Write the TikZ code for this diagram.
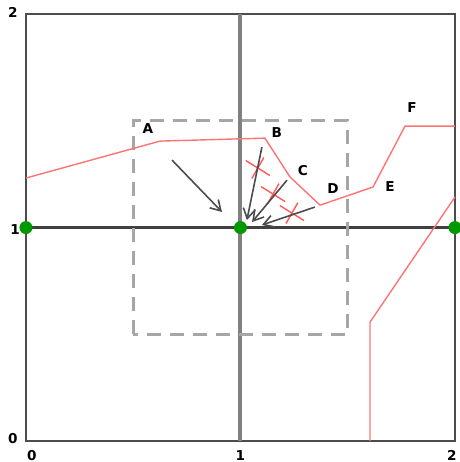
\documentclass[tikz,border=0pt]{standalone}
\usepackage{fontspec}
\setsansfont{DejaVu Sans}
\usepackage{tikz}
\usetikzlibrary{arrows.meta,positioning,calc}
\usepackage{xcolor}

\tikzset{
  lbl/.style={font=\sffamily\bfseries\fontsize{6.8}{8}\selectfont, inner sep=0pt},
  path/.style={red!55, line width=0.7pt, line join=round},
  move/.style={black!70, line width=0.8pt, -{Straight Barb[length=5pt,width=6pt]}},
  cross/.style={red!65, line width=0.7pt},
  site/.style={circle, fill=green!60!black, inner sep=0pt, minimum size=6.5pt},
}

\begin{document}
\begin{tikzpicture}[x=107.25pt,y=106.75pt]
                    \useasboundingbox (-0.121,-0.098) rectangle (2.023,2.066);
                    % frame and axes
                    \draw[black!70,line width=1.2pt] (0,2) -- (0,0) -- (2,0) -- (2,2) -- cycle;
                    \draw[black!50,line width=2pt] (1,0) -- (1,2);
                    \draw[black!75,line width=1.1pt] (0,1) -- (2,1);
                    \draw[black!35,line width=1.5pt,dash pattern=on 7pt off 4.5pt] (0.5,0.5) rectangle (1.5,1.5);
                    % obstacle boundaries
                    \draw[path] (0,1.232) -- (0.625,1.405) -- (1.114,1.419) -- (1.231,1.237)
                                -- (1.371,1.105) -- (1.618,1.190) -- (1.767,1.475) -- (2,1.475);
                    \draw[path] (2,1.143) -- (1.604,0.557) -- (1.604,0);
                    % candidate points
                    \coordinate (c1) at (1.081,1.279);
                    \coordinate (c2) at (1.152,1.157);
                    \coordinate (c3) at (1.240,1.068);
                    \foreach \n in {c1,c2,c3} {
                        \draw[cross] ($(\n)+(-0.056,0.035)$) -- ($(\n)+(0.056,-0.035)$);
                        \draw[cross] ($(\n)+(-0.028,-0.049)$) -- ($(\n)+(0.028,0.049)$);
                    }
                    % moves toward the centre
                    \coordinate (a0) at (0.681,1.316); \coordinate (a1) at (0.914,1.073);
                    \coordinate (m1s) at (1.100,1.377); \coordinate (m1e) at (1.030,1.035);
                    \coordinate (m2s) at (1.217,1.222); \coordinate (m2e) at (1.054,1.026);
                    \coordinate (m3s) at (1.347,1.096); \coordinate (m3e) at (1.100,1.012);
                    \draw[move] (a0) -- (a1);
                    \draw[move] (m1s) -- (m1e);
                    \draw[move] (m2s) -- (m2e);
                    \draw[move] (m3s) -- (m3e);
                    % sites
                    \node[site] (s0) at (0,1) {};
                    \node[site] (s1) at (1,1) {};
                    \node[site] (s2) at (2,1) {};
                    % vertex labels
                    \node[lbl] (lA) at (0.569,1.466) {A};
                    \node[lbl] (lB) at (1.170,1.447) {B};
                    \node[lbl] (lC) at (1.291,1.269) {C};
                    \node[lbl] (lD) at (1.431,1.185) {D};
                    \node[lbl] (lE) at (1.697,1.194) {E};
                    \node[lbl] (lF) at (1.800,1.560) {F};
                    % axis labels
                    \node[lbl] (y0) at (-0.061,0.014) {0};
                    \node[lbl] (y1) at (-0.051,0.993) {1};
                    \node[lbl] (y2) at (-0.061,2.009) {2};
                    \node[lbl] (x0) at (0.028,-0.066) {0};
                    \node[lbl] (x1) at (1.0,-0.066) {1};
                    \node[lbl] (x2) at (1.986,-0.066) {2};
                \end{tikzpicture}
\end{document}
